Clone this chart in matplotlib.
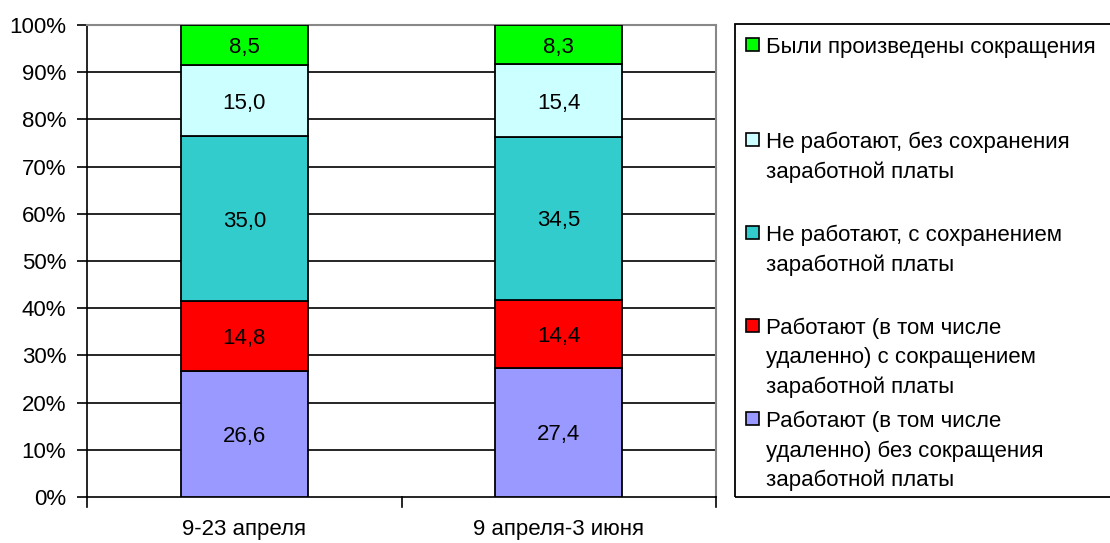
import matplotlib
matplotlib.use("Agg")
import matplotlib.pyplot as plt
from matplotlib.patches import Rectangle
import numpy as np

plt.rcParams['font.family'] = ['Liberation Sans', 'DejaVu Sans']

categories = ["9-23 апреля", "9 апреля-3 июня"]
series_names = [
    "Работают (в том числе\nудаленно) без сокращения\nзаработной платы",
    "Работают (в том числе\nудаленно) с сокращением\nзаработной платы",
    "Не работают, с сохранением\nзаработной платы",
    "Не работают, без сохранения\nзаработной платы",
    "Были произведены сокращения",
]
values = [
    [26.6, 27.4],
    [14.8, 14.4],
    [35.0, 34.5],
    [15.0, 15.4],
    [8.5, 8.3],
]
colors = ["#9999FF", "#FF0000", "#33CCCC", "#CCFFFF", "#00FF00"]
yticks = [0, 10, 20, 30, 40, 50, 60, 70, 80, 90, 100]

FS = 16
W, H = 1110, 543
fig = plt.figure(figsize=(W / 100, H / 100), dpi=100)
ax = fig.add_axes([87 / W, (H - 497) / H, (716 - 87) / W, (497 - 25) / H])

vals = np.array(values, dtype=float)
totals = vals.sum(axis=0)
pct = vals / totals * 100
x = np.arange(len(categories)) + 0.5
bottom = np.zeros(len(categories))
for i in range(len(series_names)):
    ax.bar(x, pct[i], width=0.405, bottom=bottom, color=colors[i],
           edgecolor="black", linewidth=1.3, zorder=3)
    for j in range(len(categories)):
        ax.text(x[j], bottom[j] + pct[i][j] / 2, f"{values[i][j]:.1f}".replace(".", ","),
                ha="center", va="center_baseline", fontsize=FS, zorder=4)
    bottom += pct[i]

ax.set_xlim(0, len(categories))
ax.set_ylim(0, 100)
ax.set_yticks(yticks)
ax.set_yticklabels([f"{t}%" for t in yticks], fontsize=FS)
ax.set_xticks(x)
ax.set_xticklabels(categories, fontsize=FS)
ax.tick_params(axis='x', length=0, pad=16)
ax.tick_params(axis='y', length=7, width=1.2, pad=8)
for t in [0, 1, 2]:
    ax.plot([t, t], [0, -2.2], color="black", lw=1.2, clip_on=False, zorder=5)
for yv in yticks[1:]:
    ax.axhline(yv, color="black", lw=1.2, zorder=1)
for s in ["top", "right"]:
    ax.spines[s].set_color("#888888")
    ax.spines[s].set_linewidth(1.5)
for s in ["left", "bottom"]:
    ax.spines[s].set_linewidth(1.2)

# legend box
lx0, ly0, ly1 = 735, 24, 497
fig.patches.append(Rectangle((lx0 / W, 1 - ly1 / H), (W + 10 - lx0) / W, (ly1 - ly0) / H,
                             transform=fig.transFigure, fill=False, edgecolor="black",
                             linewidth=1.3, figure=fig))
entry_y = [45, 140, 233, 326, 419]
order = [4, 3, 2, 1, 0]
line_gap = 29.5
for yy, idx in zip(entry_y, order):
    fig.patches.append(Rectangle((746 / W, 1 - (yy + 6) / H), 13 / W, 13 / H,
                                 transform=fig.transFigure, facecolor=colors[idx],
                                 edgecolor="black", linewidth=1.2, figure=fig))
    for k, line in enumerate(series_names[idx].split("\n")):
        fig.text(766 / W, 1 - (yy + k * line_gap) / H, line, ha="left",
                 va="center_baseline", fontsize=FS)

fig.savefig("out.png", dpi=100)
